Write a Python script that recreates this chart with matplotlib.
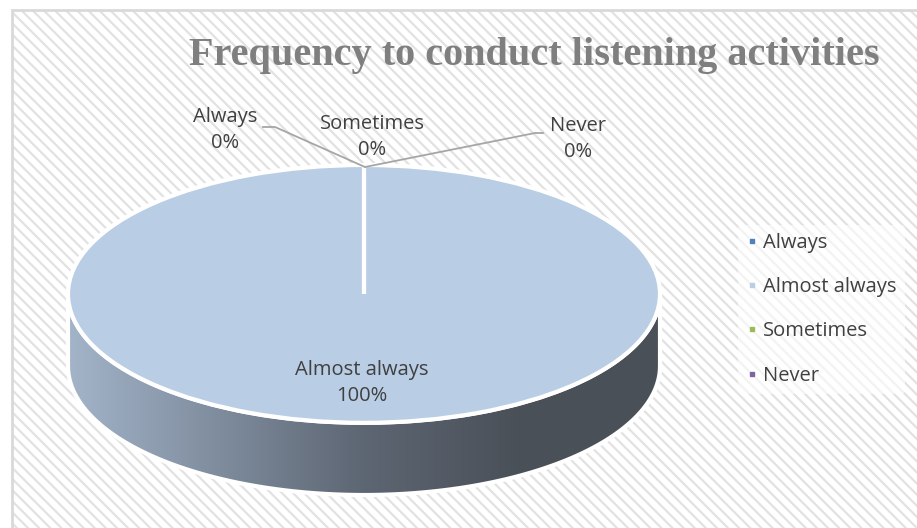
import numpy as np
import matplotlib
matplotlib.use("Agg")
import matplotlib.pyplot as plt
from matplotlib.patches import Rectangle, Polygon
from matplotlib.lines import Line2D
from matplotlib.colors import LinearSegmentedColormap

categories = ["Always", "Almost always", "Sometimes", "Never"]
values = [0, 100, 0, 0]
colors = ["#4f81bd", "#b9cde5", "#9bbb59", "#8064a2"]
title = "Frequency to conduct listening activities"

W, H = 917, 528
plt.rcParams["hatch.linewidth"] = 1.6
fig = plt.figure(figsize=(W / 100, H / 100), dpi=100)
fig.patch.set_facecolor("white")

# striped background with a thin grey frame
fig.patches.append(Rectangle((12 / W, -0.1), 1.2, 1.1 - 10 / H, transform=fig.transFigure,
                             facecolor="white", edgecolor="#e2e2e2", hatch="\\" * 3,
                             linewidth=0, zorder=-5))
fig.patches.append(Rectangle((12 / W, -0.1), 1.2, 1.1 - 10 / H, transform=fig.transFigure,
                             facecolor="none", edgecolor="#d9d9d9", linewidth=2, zorder=-4))

txt = "#404040"
font = "Open Sans"
fs = 14.5

# pie axes: unit circle squashed into the top ellipse, side depth below it
depth = 0.56
ax = fig.add_axes([68 / W, 1 - 495 / H, 592 / W, 330 / H])
ax.set_zorder(1)
wedges, _ = ax.pie(values, colors=colors, startangle=90, counterclock=False,
                   wedgeprops=dict(edgecolor="white", linewidth=3))
for w in wedges:
    w.set_clip_on(False)
    w.set_zorder(3)
ax.set_aspect("auto")
ax.axis("off")

# side wall of the 3d disk
t = np.linspace(np.pi, 2 * np.pi, 200)
upper = np.column_stack([np.cos(t), np.sin(t)])
lower = np.column_stack([np.cos(t[::-1]), np.sin(t[::-1]) - depth])
side = Polygon(np.vstack([upper, lower]), closed=True, facecolor="none",
               edgecolor="white", linewidth=3, zorder=2, clip_on=False)
ax.add_patch(side)
cmap = LinearSegmentedColormap.from_list("side", ["#a3b4c9", "#7f8d9e", "#5d6673", "#4b5159", "#4a5058"])
grad = np.linspace(0, 1, 256).reshape(1, -1)
im = ax.imshow(grad, cmap=cmap, extent=[-1, 1, -1 - depth, 0], aspect="auto", zorder=1)
im.set_clip_path(side)
ax.set_xlim(-1, 1)
ax.set_ylim(-1 - depth, 1)

# title
fig.text(534 / W, 1 - 55 / H, title, ha="center", va="center", fontsize=29,
         fontweight="bold", family="Liberation Serif", color="#7f7f7f")

# data labels
fig.text(362 / W, 1 - 383 / H, f"{categories[1]}\n{values[1]}%", ha="center", va="center",
         fontsize=fs, family=font, color=txt, linespacing=1.37, zorder=5)
lab_pos = {"Always": (225, 130), "Sometimes": (372, 137), "Never": (578, 139)}
for c, v in zip(categories, values):
    if c in lab_pos:
        x, y = lab_pos[c]
        fig.text(x / W, 1 - y / H, f"{c}\n{v}%", ha="center", va="center",
                 fontsize=fs, family=font, color=txt, linespacing=1.37, zorder=5)

# leader lines
top = (365 / W, 1 - 167 / H)
fig.add_artist(Line2D([263 / W, 275 / W, top[0]], [1 - 127 / H, 1 - 127 / H, top[1]],
                      color="#a6a6a6", lw=1.3, zorder=4))
fig.add_artist(Line2D([top[0], 535 / W, 543 / W], [top[1], 1 - 133 / H, 1 - 133 / H],
                      color="#a6a6a6", lw=1.3, zorder=4))

# legend
handles = [Line2D([], [], marker="s", markersize=3, linestyle="none", color=c) for c in colors]
leg = fig.legend(handles, categories, loc="upper left", bbox_to_anchor=(738 / W, 1 - 225 / H),
                 frameon=True, labelspacing=1.2, handlelength=0.6,
                 handletextpad=0.25, borderaxespad=0, prop=dict(family=font, size=fs))
leg.get_frame().set_facecolor("white")
leg.get_frame().set_alpha(0.6)
leg.get_frame().set_edgecolor("none")
for t_ in leg.get_texts():
    t_.set_color(txt)

fig.savefig("out.png", dpi=100)
